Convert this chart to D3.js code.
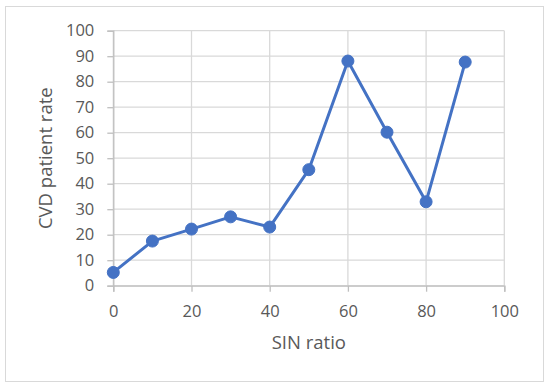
<!DOCTYPE html>
<html><head><meta charset="utf-8">
<script src="https://cdn.jsdelivr.net/npm/d3@7"></script>
<style>body{margin:0;background:#fff}svg{display:block}</style>
</head><body>
<script>
const sinRatio = [0, 10, 20, 30, 40, 50, 60, 70, 80, 90];
const cvdRate = [5.2, 17.5, 22.2, 27.0, 23.0, 45.5, 88.1, 60.2, 32.9, 87.7];
const xTicks = [0, 20, 40, 60, 80, 100];
const yTicks = [0, 10, 20, 30, 40, 50, 60, 70, 80, 90, 100];
const xTitle = "SIN ratio";
const yTitle = "CVD patient rate";

const W = 550, H = 389;
const m = {left: 113.3, right: 550 - 504.3, top: 30.7, bottom: 389 - 285.7};
const svg = d3.select("body").append("svg").attr("width", W).attr("height", H);
svg.append("rect").attr("x", 5.5).attr("y", 6.5).attr("width", 538).attr("height", 375)
  .attr("fill", "#fff").attr("stroke", "#d9d9d9").attr("stroke-width", 1);

const x = d3.scaleLinear().domain([0, 100]).range([m.left, W - m.right]);
const y = d3.scaleLinear().domain([0, 100]).range([H - m.bottom, m.top]);
const font = "'Open Sans', 'Liberation Sans', sans-serif";

// gridlines
svg.append("g").selectAll("line").data(yTicks).join("line")
  .attr("x1", x(0)).attr("x2", x(100)).attr("y1", d => y(d)).attr("y2", d => y(d))
  .attr("stroke", "#d9d9d9").attr("stroke-width", 1.3);
svg.append("g").selectAll("line").data(xTicks).join("line")
  .attr("x1", d => x(d)).attr("x2", d => x(d)).attr("y1", y(0)).attr("y2", y(100))
  .attr("stroke", "#d9d9d9").attr("stroke-width", 1.3);

const xAxis = svg.append("g").attr("transform", `translate(0,${y(0)})`)
  .call(d3.axisBottom(x).tickValues(xTicks).tickSize(6).tickPadding(14).tickFormat(d3.format("d")));
const yAxis = svg.append("g").attr("transform", `translate(${x(0)},0)`)
  .call(d3.axisLeft(y).tickValues(yTicks).tickSize(6).tickPadding(13).tickFormat(d3.format("d")));
[xAxis, yAxis].forEach(a => {
  a.select(".domain").attr("stroke", "#bfbfbf").attr("stroke-width", 1.3);
  a.selectAll(".tick line").attr("stroke", "#bfbfbf").attr("stroke-width", 1.3);
  a.selectAll("text").attr("fill", "#595959").style("font-family", font).style("font-size", "16.5px");
});

svg.append("text").attr("x", (x(0) + x(100)) / 2).attr("y", 349)
  .attr("text-anchor", "middle").attr("fill", "#595959")
  .style("font-family", font).style("font-size", "18.5px").text(xTitle);
svg.append("text").attr("transform", `translate(52,${(y(0) + y(100)) / 2}) rotate(-90)`)
  .attr("text-anchor", "middle").attr("fill", "#595959")
  .style("font-family", font).style("font-size", "18.5px").text(yTitle);

const pts = sinRatio.map((s, i) => [s, cvdRate[i]]);
svg.append("path").datum(pts)
  .attr("d", d3.line().x(d => x(d[0])).y(d => y(d[1])))
  .attr("fill", "none").attr("stroke", "#4472C4").attr("stroke-width", 3).attr("stroke-linejoin", "round");
svg.append("g").selectAll("circle").data(pts).join("circle")
  .attr("cx", d => x(d[0])).attr("cy", d => y(d[1])).attr("r", 6)
  .attr("fill", "#4472C4").attr("stroke", "#4472C4").attr("stroke-width", 1);
</script>
</body></html>
